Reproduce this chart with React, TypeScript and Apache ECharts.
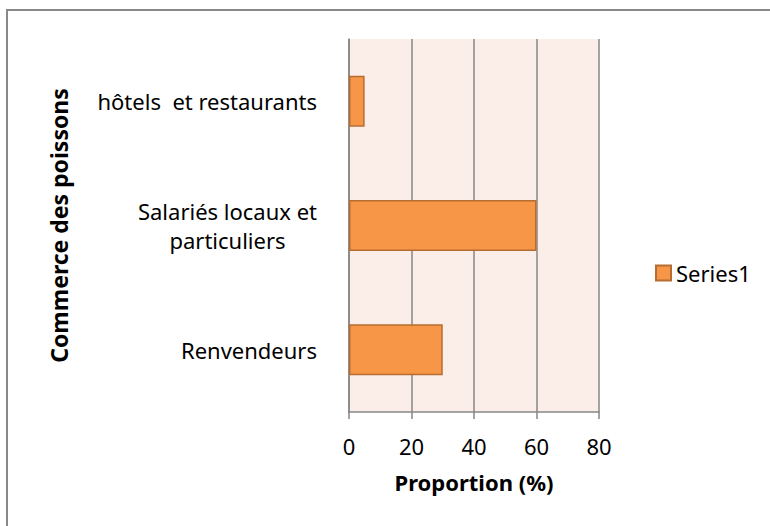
import React, { useEffect, useRef } from "react";
import * as echarts from "echarts";

const categories = ["Renvendeurs", "Salariés locaux et\nparticuliers", "hôtels  et restaurants"];
const values = [30, 60, 5];
const xTicks = { min: 0, max: 80, interval: 20 };
const seriesName = "Series1";
const xAxisTitle = "Proportion (%)";
const yAxisTitle = "Commerce des poissons";

const FONT = "Noto Sans";

export default function App() {
  const ref = useRef<HTMLDivElement>(null);
  useEffect(() => {
    if (!ref.current) return;
    const chart = echarts.init(ref.current, undefined, { renderer: "svg" });
    chart.setOption({
      animation: false,
      backgroundColor: "#ffffff",
      textStyle: { fontFamily: FONT },
      grid: {
        left: 349,
        right: 171,
        top: 39,
        bottom: 114,
        show: true,
        backgroundColor: "#FBEDE8",
        borderWidth: 0,
      },
      legend: {
        show: true,
        orient: "vertical",
        left: 655,
        top: 262,
        padding: 0,
        icon: "rect",
        itemWidth: 15,
        itemHeight: 15,
        itemGap: 6,
        textStyle: { fontFamily: FONT, fontSize: 22, color: "#000" },
        data: [seriesName],
      },
      xAxis: {
        type: "value",
        min: xTicks.min,
        max: xTicks.max,
        interval: xTicks.interval,
        name: xAxisTitle,
        nameLocation: "middle",
        nameGap: 59,
        nameTextStyle: { fontFamily: FONT, fontSize: 22, fontWeight: "bold", color: "#000" },
        axisLine: { show: true, lineStyle: { color: "#868686", width: 1.5 } },
        axisTick: { show: true, length: 7, lineStyle: { color: "#868686", width: 1.5 } },
        axisLabel: { fontFamily: FONT, fontSize: 22, color: "#000", margin: 23 },
        splitLine: { show: true, lineStyle: { color: "#868686", width: 1.5 } },
      },
      yAxis: {
        type: "category",
        data: categories,
        name: yAxisTitle,
        nameLocation: "middle",
        nameGap: 279,
        nameRotate: 90,
        nameTextStyle: { fontFamily: FONT, fontSize: 23, fontWeight: "bold", color: "#000" },
        axisLine: { show: true, lineStyle: { color: "#868686", width: 1.5 } },
        axisTick: { show: false },
        axisLabel: {
          fontFamily: FONT,
          fontSize: 22,
          color: "#000",
          margin: 32,
          lineHeight: 29,
          formatter: (v: string) =>
            v.indexOf("\n") >= 0
              ? v.split("\n").map((l) => `{c|${l}}`).join("\n")
              : v,
          rich: {
            c: { align: "center", fontFamily: FONT, fontSize: 22, color: "#000", lineHeight: 29 },
          },
        },
        splitLine: { show: false },
      },
      series: [
        {
          name: seriesName,
          type: "bar",
          data: values,
          barCategoryGap: "59%",
          itemStyle: { color: "#F79646", borderColor: "#B66D31", borderWidth: 1.5 },
        },
      ],
      graphic: [
        {
          type: "line",
          shape: { x1: 7, y1: 10, x2: 7, y2: 526 },
          style: { stroke: "#898989", lineWidth: 2 },
        },
        {
          type: "line",
          shape: { x1: 6, y1: 10, x2: 770, y2: 10 },
          style: { stroke: "#898989", lineWidth: 2 },
        },
      ],
    });
    return () => chart.dispose();
  }, []);
  return (
    <div
      ref={ref}
      style={{ position: "absolute", left: 0, top: 0, width: 770, height: 526 }}
    />
  );
}
